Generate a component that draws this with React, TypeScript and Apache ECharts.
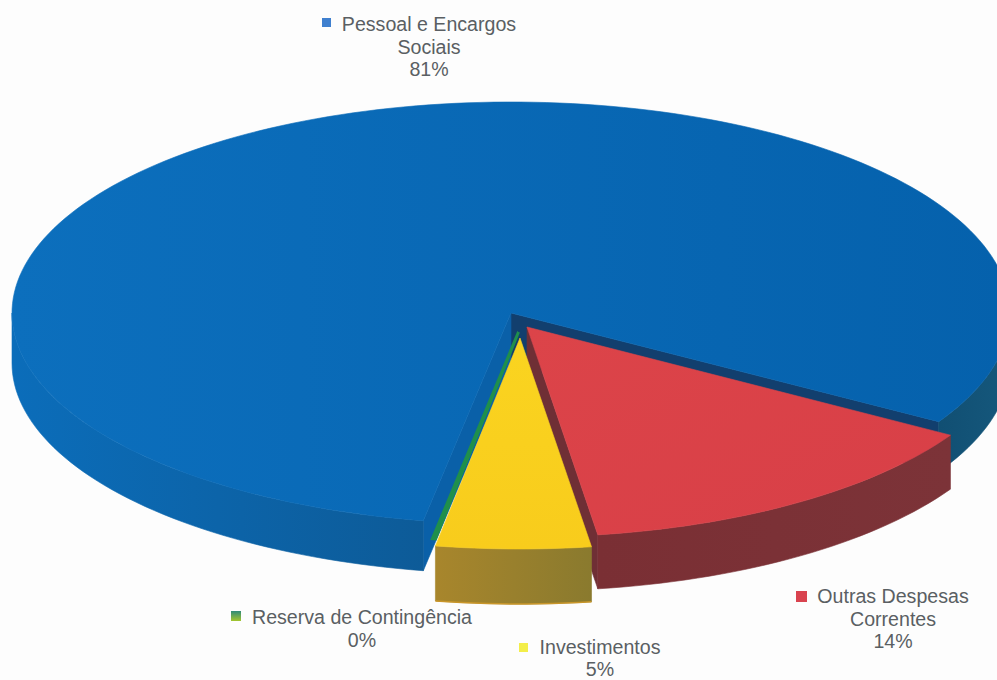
import React, { useEffect, useRef } from "react";
import * as echarts from "echarts";

const categories = ["Outras Despesas Correntes", "Investimentos", "Reserva de Contingência", "Pessoal e Encargos Sociais"];
const values = [14.1, 5.0, 0.1, 80.8];
const percentLabels = ["14%", "5%", "0%", "81%"];
const labelLines = [["Outras Despesas", "Correntes"], ["Investimentos"], ["Reserva de Contingência"], ["Pessoal e Encargos", "Sociais"]];
const drawOrder = [3, 0, 2, 1];

const START_ANGLE = 31;
const sliceGeom = [
  { cx: 527, cy: 327, rx: 494, ry: 210, d: 54 },
  { cx: 520, cy: 338, rx: 499, ry: 211, d: 55 },
  { cx: 518.5, cy: 332, rx: 490, ry: 210, d: 0 },
  { cx: 511, cy: 313, rx: 499, ry: 211, d: 50 },
];
const grad = (x0: number, y0: number, x1: number, y1: number, a: string, b: string) =>
  new echarts.graphic.LinearGradient(x0, y0, x1, y1, [{ offset: 0, color: a }, { offset: 1, color: b }]);
const topFill = [
  () => grad(0, 0, 1, 1, "#dc4449", "#d83f47"),
  () => grad(0, 0, 0, 1, "#fad420", "#f8cc1c"),
  () => "#1f8f4c",
  () => grad(0, 0, 1, 0, "#0c6fbd", "#0561ac"),
];
const wallFill = [
  () => grad(0, 0, 1, 0, "#7a2f34", "#7c3338"),
  () => grad(0, 0, 1, 0, "#a8862c", "#8a7a2e"),
  () => "#176f45",
  (a: number) => (a < 200 ? grad(0, 0, 1, 0, "#0b6dba", "#0d5b98") : grad(0, 0, 1, 0, "#114f73", "#15587c")),
];
const cutFill = ["#6f2f35", "#8a7a2e", "#176f45", "#0a60a8"];

const rad = (d: number) => (d * Math.PI) / 180;

function slicesAngles() {
  const total = values.reduce((s, v) => s + v, 0);
  let a = START_ANGLE;
  return values.map((v) => {
    const s = a;
    a += (v / total) * 360;
    return [s, a];
  });
}

const angles = slicesAngles();

function arcPoints(g: any, a0: number, a1: number, dy = 0) {
  const n = Math.max(2, Math.ceil(Math.abs(a1 - a0) / 1.5));
  const pts: number[][] = [];
  for (let k = 0; k <= n; k++) {
    const t = rad(a0 + ((a1 - a0) * k) / n);
    pts.push([g.cx + g.rx * Math.cos(t), g.cy + g.ry * Math.sin(t) + dy]);
  }
  return pts;
}

function visibleRanges(a0: number, a1: number) {
  const out: number[][] = [];
  for (let k = 0; k < 3; k++) {
    const s = Math.max(a0, k * 360);
    const e = Math.min(a1, k * 360 + 180);
    if (e > s) out.push([s, e]);
  }
  return out;
}

function renderSlice(params: any, api: any) {
  const i = api.value(1);
  const g = sliceGeom[i];
  const [a0, a1] = angles[i];
  const children: any[] = [];
  const poly = (points: number[][], fill: any, lineWidth = 0.6) => ({
    type: "polygon",
    shape: { points },
    style: { fill, stroke: fill, lineWidth },
  });
  const apex = [g.cx, g.cy];
  const apexLow = [g.cx, g.cy + g.d];
  const edge = (a: number) => arcPoints(g, a, a)[0];
  const low = (p: number[]) => [p[0], p[1] + g.d];

  if (i === 3) {
    const p = edge(a1);
    children.push(poly([apex, p, low(p), apexLow], "#123f6e"));
    const q = edge(a0);
    children.push(poly([apex, q, low(q), apexLow], cutFill[i]));
  }
  if (i === 0) {
    const q = edge(a1);
    children.push(poly([apex, q, low(q), apexLow], cutFill[i]));
  }
  if (g.d > 0) {
    visibleRanges(a0, a1).forEach(([s, e]) => {
      const top = arcPoints(g, s, e);
      const bottom = arcPoints(g, e, s, g.d);
      children.push(poly([...top, ...bottom], wallFill[i](s)));
    });
  }
  if (i === 1) {
    children.push({
      type: "polyline",
      shape: { points: arcPoints(g, a0, a1, g.d) },
      style: { fill: null, stroke: "#c9962a", lineWidth: 1.5 },
    });
  }
  children.push(poly([apex, ...arcPoints(g, a0, a1)], topFill[i](), i === 2 ? 3 : 0.6));
  return { type: "group", children };
}

const labelStyle = { fontFamily: "Liberation Sans", fontSize: 19.6, fill: "#5a5f63" };
const labelPlacement = [
  { x: 893, y: 596, mx: 796, my: 591, ms: 11, mark: "#d9434f", gap: 22.7 },
  { x: 600, y: 647, mx: 519, my: 643, ms: 9, mark: "#f3ee4a", gap: 22 },
  { x: 362, y: 617, mx: 231, my: 611, ms: 10, mark: () => grad(0, 0, 0, 1, "#2f8a78", "#a4c62e"), gap: 22.7 },
  { x: 429, y: 24, mx: 322, my: 18, ms: 9, mark: "#3f80cf", gap: 22.7 },
];

function graphics() {
  const els: any[] = [];
  categories.forEach((_, i) => {
    const p = labelPlacement[i];
    const lines = [...labelLines[i], percentLabels[i]];
    lines.forEach((text, k) => {
      els.push({
        type: "text",
        x: p.x,
        y: p.y + k * p.gap,
        style: { ...labelStyle, text, align: "center", verticalAlign: "middle" },
      });
    });
    els.push({
      type: "rect",
      shape: { x: p.mx, y: p.my, width: p.ms, height: p.ms },
      style: { fill: typeof p.mark === "function" ? p.mark() : p.mark },
    });
  });
  return els;
}

export default function App() {
  const ref = useRef<HTMLDivElement>(null);
  useEffect(() => {
    if (!ref.current) return;
    const chart = echarts.init(ref.current, undefined, { renderer: "svg" });
    chart.setOption({
      animation: false,
      backgroundColor: "#fdfdfd",
      series: [
        {
          type: "custom",
          coordinateSystem: "none",
          renderItem: renderSlice,
          silent: true,
          data: drawOrder.map((i) => ({ name: categories[i], value: [values[i], i] })),
        },
      ],
      graphic: { elements: graphics() },
    });
    return () => chart.dispose();
  }, []);
  return <div ref={ref} style={{ position: "fixed", left: 0, top: 0, width: 997, height: 680 }} />;
}
